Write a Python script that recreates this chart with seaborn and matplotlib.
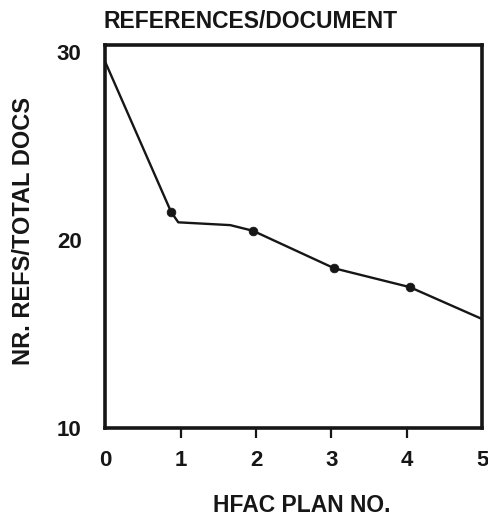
import matplotlib
matplotlib.use("Agg")
import matplotlib.pyplot as plt
import pandas as pd
import seaborn as sns

# values
plan_no = [0.0, 0.875, 0.97, 1.66, 1.96, 3.04, 4.04, 5.0]
refs_per_doc = [29.5, 21.5, 20.95, 20.8, 20.5, 18.5, 17.5, 15.8]
marked = [False, True, False, False, True, True, True, False]

x_ticks = [0, 1, 2, 3, 4, 5]
y_ticks = [10, 20, 30]

df = pd.DataFrame({"plan": plan_no, "refs": refs_per_doc, "marked": marked})

sns.set_style("white")
plt.rcParams["font.family"] = ["Liberation Sans", "DejaVu Sans"]
plt.rcParams["font.weight"] = "bold"
ink = "#161616"

fig = plt.figure(figsize=(4.89, 5.21), dpi=100)
ax = fig.add_axes([0.215, 0.1785, 0.771, 0.7355])

sns.lineplot(x="plan", y="refs", data=df, color=ink, linewidth=1.7, ax=ax)
sns.scatterplot(x="plan", y="refs", data=df[df.marked], color=ink,
                s=40, edgecolor=ink, zorder=3, ax=ax)

ax.set_xlim(0, 5)
ax.set_ylim(10, 30.4)
ax.set_xticks(x_ticks)
ax.set_yticks(y_ticks)
ax.set_xticklabels([str(t) for t in x_ticks], fontsize=16, fontweight="bold", color=ink)
ax.set_yticklabels([str(t) for t in y_ticks], fontsize=16, fontweight="bold", color=ink)
ax.tick_params(axis="x", bottom=True, direction="out", length=7, width=1.6, pad=9, color=ink)
ax.tick_params(axis="y", left=False, length=0, pad=17)
ticks = ax.xaxis.get_major_ticks()
ticks[0].tick1line.set_visible(False)
ticks[-1].tick1line.set_visible(False)

for s in ax.spines.values():
    s.set_linewidth(2.6)
    s.set_color(ink)

ax.set_xlabel("")
ax.set_ylabel("")
fig.text(251 / 489, 1 - 21 / 521, "REFERENCES/DOCUMENT", fontsize=16.5,
         fontweight="bold", color=ink, ha="center", va="center")
fig.text(302 / 489, 1 - 505 / 521, "HFAC PLAN NO.", fontsize=16.5,
         fontweight="bold", color=ink, ha="center", va="center")
fig.text(24 / 489, 1 - 231 / 521, "NR. REFS/TOTAL DOCS", fontsize=17,
         fontweight="bold", color=ink, ha="center", va="center", rotation=90)

fig.savefig("out.png", dpi=100)
